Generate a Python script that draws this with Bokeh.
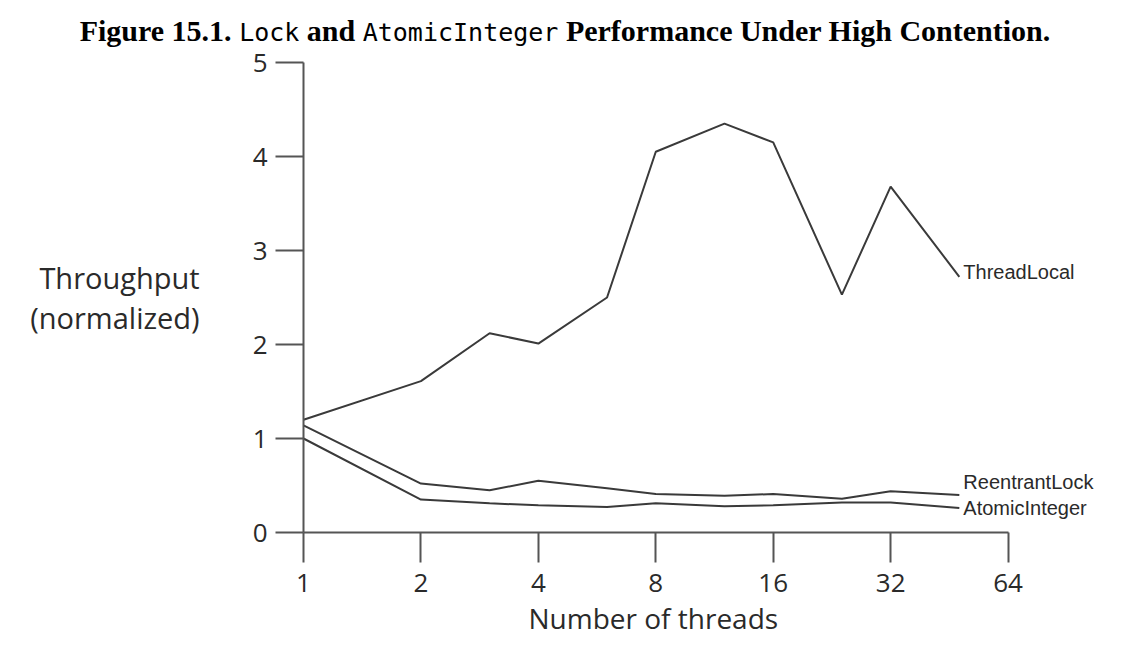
from bokeh.plotting import figure
from bokeh.models import Div, Label, FixedTicker, Range1d, Title
from bokeh.layouts import column
from bokeh.embed import file_html
from bokeh.resources import INLINE

# ---- data ----
threads = [1, 2, 3, 4, 6, 8, 12, 16, 24, 32, 48]
thread_local = [1.20, 1.61, 2.12, 2.01, 2.50, 4.05, 4.35, 4.15, 2.53, 3.68, 2.72]
reentrant_lock = [1.14, 0.52, 0.45, 0.55, 0.47, 0.41, 0.39, 0.41, 0.36, 0.44, 0.40]
atomic_integer = [1.00, 0.35, 0.31, 0.29, 0.27, 0.31, 0.28, 0.29, 0.32, 0.32, 0.26]
series_names = ["ThreadLocal", "ReentrantLock", "AtomicInteger"]
x_ticks = [1, 2, 4, 8, 16, 32, 64]
x_tick_labels = ["1", "2", "4", "8", "16", "32", "64"]
y_ticks = [0, 1, 2, 3, 4, 5]

FONT = "Open Sans"
LINE = "#3a3a3a"
AXIS = "#555555"
TXT = "#2a2a2a"

serif = "font-family:'Liberation Serif';font-weight:bold;font-size:30px;"
mono = "font-family:'DejaVu Sans Mono';font-size:25px;"
title_html = (
    f'<span style="{serif}">Figure 15.1. </span>'
    f'<span style="{mono}">Lock</span>'
    f'<span style="{serif}"> and </span>'
    f'<span style="{mono}">AtomicInteger</span>'
    f'<span style="{serif}"> Performance Under High Contention.</span>'
)
title = Div(text=title_html, width=1130, height=40, margin=0,
            styles={"text-align": "center", "width": "1130px", "line-height": "36px",
                    "padding-top": "13px", "box-sizing": "border-box", "color": "#000",
                    "overflow": "visible"})

p = figure(width=1130, height=612, x_axis_type="log",
           x_range=Range1d(x_ticks[0], x_ticks[-1] * 2), y_range=Range1d(y_ticks[0], y_ticks[-1]),
           output_backend="svg", toolbar_location=None,
           min_border_left=303, min_border_right=5, min_border_top=22, min_border_bottom=120,
           margin=0)
p.outline_line_color = None
p.grid.visible = False
p.background_fill_color = "white"
p.border_fill_alpha = 0

for ys in (thread_local, reentrant_lock, atomic_integer):
    p.line(threads, ys, line_color=LINE, line_width=2)

offsets = [5, 13, 0]
for name, ys, off in zip(series_names, (thread_local, reentrant_lock, atomic_integer), offsets):
    p.add_layout(Label(x=threads[-1], y=ys[-1], text=name, x_offset=4, y_offset=off,
                       text_font="Liberation Sans", text_font_size="20px", text_color=TXT,
                       text_baseline="middle", text_align="left"))

xa = p.xaxis[0]
xa.ticker = FixedTicker(ticks=x_ticks)
xa.bounds = (x_ticks[0], x_ticks[-1])
xa.major_label_overrides = {t: l for t, l in zip(x_ticks, x_tick_labels)}
xa.minor_tick_line_color = None
xa.major_tick_in = 0
xa.major_tick_out = 30
xa.axis_line_color = AXIS
xa.axis_line_width = 2
xa.major_tick_line_color = AXIS
xa.major_tick_line_width = 2
xa.major_label_text_font = FONT
xa.major_label_text_font_size = "26px"
xa.major_label_text_color = TXT
xa.major_label_standoff = 11

xlabel = Title(text="Number of threads", align="left", offset=225,
               text_font=FONT, text_font_size="28px", text_font_style="normal",
               text_color=TXT, standoff=4)
p.add_layout(xlabel, "below")

ya = p.yaxis[0]
ya.ticker = FixedTicker(ticks=y_ticks)
ya.minor_tick_line_color = None
ya.major_tick_in = 0
ya.major_tick_out = 28
ya.axis_line_color = AXIS
ya.axis_line_width = 2
ya.major_tick_line_color = AXIS
ya.major_tick_line_width = 2
ya.major_label_text_font = FONT
ya.major_label_text_font_size = "26px"
ya.major_label_text_color = TXT
ya.major_label_standoff = 8
ya.axis_label = "Throughput\n(normalized)"
ya.axis_label_orientation = "horizontal"
ya.axis_label_text_font = FONT
ya.axis_label_text_font_size = "29px"
ya.axis_label_text_font_style = "normal"
ya.axis_label_text_color = TXT
ya.axis_label_text_align = "center"
ya.axis_label_text_line_height = 1.05
ya.axis_label_standoff = 50

layout = column(title, p, margin=0, spacing=0)
open("out.html", "w").write(file_html(layout, INLINE))
